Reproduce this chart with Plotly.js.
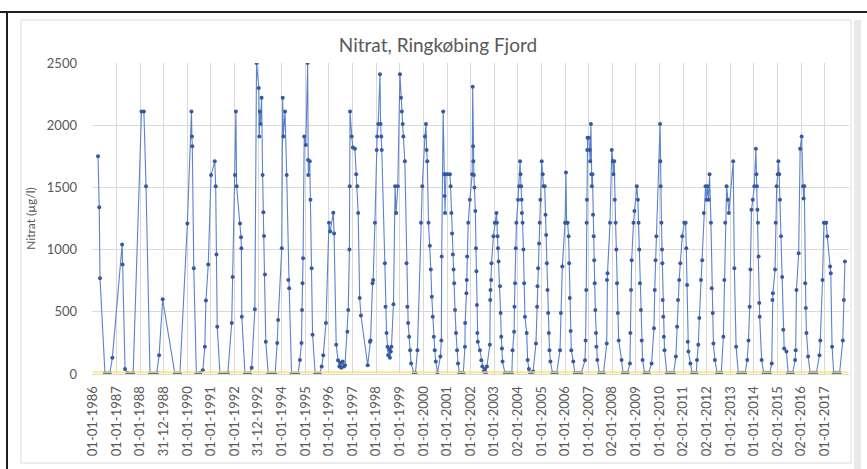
<!DOCTYPE html>
<html>
<head>
<meta charset="utf-8">
<script src="https://cdn.plot.ly/plotly-3.0.1.min.js"></script>
<style>html,body{margin:0;padding:0;background:#fff;}#chart{width:867px;height:469px;}</style>
</head>
<body>
<div id="chart"></div>
<script>
// ---- data ----
const sampleDates = [
'1986-03-20','1986-04-08','1986-04-20','1986-07-05','1986-07-25','1986-08-20','1986-09-20','1986-10-28',
'1987-03-28','1987-04-05','1987-05-12','1987-06-15','1987-07-15','1987-08-15','1987-09-15',
'1988-01-22','1988-02-28','1988-04-01','1988-06-01','1988-07-01','1988-08-01','1988-09-15','1988-10-20','1988-12-15',
'1989-06-20','1989-07-20','1989-08-20','1989-09-08',
'1990-01-01','1990-03-05','1990-03-12','1990-03-18','1990-04-10','1990-05-20','1990-06-20','1990-07-20','1990-08-28','1990-09-28','1990-10-15','1990-11-20',
'1991-01-02','1991-03-01','1991-03-15','1991-03-27','1991-04-08','1991-05-20','1991-06-20','1991-07-25','1991-09-20','1991-11-18','1991-12-02',
'1992-01-08','1992-01-22','1992-02-02','1992-03-25','1992-04-10','1992-04-16','1992-04-22','1992-06-10','1992-07-15','1992-08-25','1992-09-22','1992-11-10','1992-12-06',
'1993-01-10','1993-01-18','1993-01-26','1993-02-05','1993-02-22','1993-03-10','1993-03-22','1993-04-01','1993-04-15','1993-04-28','1993-06-05','1993-07-10','1993-08-15','1993-09-20','1993-10-22','1993-11-05',
'1994-01-01','1994-01-15','1994-01-25','1994-02-20','1994-03-18','1994-04-12','1994-04-25','1994-06-01','1994-07-01','1994-08-01','1994-09-12','1994-10-08','1994-11-02','1994-11-10','1994-11-18','1994-11-26','1994-12-14',
'1995-01-08','1995-02-05','1995-02-12','1995-02-15','1995-03-10','1995-03-20','1995-04-08','1995-04-22','1995-06-01','1995-07-01','1995-08-10','1995-09-10','1995-10-05','1995-11-15',
'1996-01-01','1996-01-20','1996-03-08','1996-03-20','1996-04-22','1996-05-20','1996-06-10','1996-06-25','1996-07-10','1996-08-01','1996-08-20','1996-09-05','1996-10-12','1996-10-25','1996-11-12','1996-11-18','1996-11-22','1996-12-18',
'1997-01-05','1997-02-05','1997-02-25','1997-03-15','1997-03-28','1997-04-20','1997-05-10','1997-08-22','1997-09-25','1997-10-05','1997-11-05','1997-11-15','1997-12-12',
'1998-01-08','1998-01-15','1998-02-01','1998-02-28','1998-03-10','1998-03-20','1998-03-28','1998-05-15','1998-05-25','1998-06-10','1998-06-25','1998-07-05','1998-07-20','1998-08-01','1998-08-15','1998-08-25','1998-09-25','1998-10-20','1998-11-05','1998-12-01',
'1999-01-03','1999-01-20','1999-02-01','1999-02-15','1999-02-25','1999-03-20','1999-04-15','1999-04-28','1999-05-10','1999-05-25','1999-06-10','1999-06-25','1999-08-05','1999-09-01','1999-10-01','1999-11-25','1999-12-15',
'2000-01-25','2000-02-10','2000-02-20','2000-03-01','2000-03-20','2000-04-10','2000-04-25','2000-05-10','2000-05-25','2000-06-10','2000-06-25','2000-07-10','2000-08-05','2000-09-20','2000-10-05','2000-10-10','2000-11-02','2000-11-20','2000-11-25','2000-12-01','2000-12-15',
'2001-01-10','2001-02-15','2001-02-25','2001-03-10','2001-03-20','2001-04-01','2001-04-12','2001-04-22','2001-05-05','2001-05-20','2001-06-05','2001-06-20','2001-07-10','2001-08-15','2001-09-10','2001-10-05','2001-10-08','2001-10-28','2001-11-02','2001-11-08','2001-11-25','2001-12-20',
'2002-01-25','2002-02-02','2002-02-08','2002-02-12','2002-02-20','2002-03-01','2002-03-15','2002-03-25','2002-04-01','2002-04-08','2002-04-15','2002-04-22','2002-05-25','2002-06-15','2002-07-01','2002-07-20','2002-08-10','2002-08-25','2002-09-10','2002-10-25','2002-11-01','2002-11-05','2002-11-15','2002-11-20','2002-12-20',
'2003-01-10','2003-02-05','2003-02-12','2003-02-22','2003-03-01','2003-03-10','2003-04-01','2003-04-10','2003-04-20','2003-05-01','2003-05-10','2003-06-15','2003-07-20','2003-08-25','2003-10-01','2003-10-12','2003-11-05','2003-11-10','2003-11-20','2003-12-01','2003-12-10',
'2004-01-05','2004-01-20','2004-02-05','2004-02-12','2004-02-22','2004-03-01','2004-03-05','2004-03-15','2004-03-28','2004-04-08','2004-04-20','2004-05-18','2004-06-01','2004-06-20','2004-07-10','2004-08-05','2004-08-25','2004-10-08','2004-10-25','2004-11-01','2004-11-10','2004-11-25','2004-12-05','2004-12-15',
'2005-01-05','2005-01-20','2005-02-01','2005-02-20','2005-03-05','2005-03-15','2005-03-25','2005-04-05','2005-04-15','2005-04-25','2005-05-05','2005-05-20','2005-06-20','2005-07-20','2005-08-25','2005-10-15','2005-10-28','2005-11-20',
'2006-01-01','2006-01-15','2006-01-25','2006-02-10','2006-02-25','2006-03-05','2006-03-15','2006-03-28','2006-04-08','2006-05-08','2006-06-01','2006-07-01','2006-08-01','2006-09-10','2006-11-05','2006-11-15','2006-11-25','2006-12-01','2006-12-05','2006-12-10','2006-12-15',
'2007-01-05','2007-01-20','2007-01-25','2007-02-05','2007-02-12','2007-02-20','2007-03-01','2007-03-10','2007-03-20','2007-03-28','2007-04-05','2007-04-15','2007-04-25','2007-05-01','2007-05-15','2007-06-15','2007-07-15','2007-08-20','2007-10-08','2007-10-12','2007-10-20','2007-11-28','2007-12-25',
'2008-01-10','2008-01-20','2008-02-01','2008-02-10','2008-02-22','2008-03-05','2008-03-15','2008-03-28','2008-04-10','2008-05-25','2008-06-15','2008-07-15','2008-08-25','2008-10-01','2008-10-08','2008-10-18','2008-10-28','2008-11-25','2008-12-10',
'2009-01-15','2009-02-01','2009-02-12','2009-02-22','2009-03-05','2009-03-20','2009-04-01','2009-04-15','2009-05-15','2009-06-15','2009-07-20','2009-09-01','2009-10-08','2009-10-20','2009-11-01','2009-11-15',
'2010-01-10','2010-01-15','2010-01-20','2010-02-01','2010-02-10','2010-02-15','2010-02-20','2010-03-01','2010-03-10','2010-03-20','2010-04-25','2010-06-01','2010-07-10','2010-08-10','2010-09-12','2010-10-01','2010-10-15','2010-11-02','2010-11-20','2010-12-20',
'2011-01-20','2011-02-10','2011-02-20','2011-03-05','2011-03-15','2011-03-25','2011-04-25','2011-05-20','2011-06-20','2011-07-25','2011-08-05','2011-08-25','2011-09-10','2011-10-05','2011-10-25','2011-11-18','2011-12-15',
'2012-01-01','2012-01-15','2012-02-01','2012-02-15','2012-03-08','2012-03-20','2012-04-05','2012-04-15','2012-05-08','2012-06-10','2012-07-20','2012-08-15','2012-09-16','2012-10-01','2012-10-15','2012-11-05','2012-11-25','2012-12-10',
'2013-02-15','2013-03-05','2013-04-01','2013-05-05','2013-06-20','2013-07-25','2013-08-20','2013-09-20','2013-10-10','2013-10-28','2013-11-10','2013-11-25','2013-12-15',
'2014-01-08','2014-02-01','2014-02-10','2014-02-18','2014-02-25','2014-03-05','2014-03-15','2014-03-25','2014-04-01','2014-05-01','2014-06-01','2014-07-01','2014-08-05','2014-09-05','2014-10-05','2014-10-15','2014-10-22','2014-11-25','2014-12-05','2014-12-20',
'2015-01-05','2015-01-15','2015-01-28','2015-02-08','2015-02-25','2015-03-15','2015-04-01','2015-04-15','2015-05-20','2015-06-15','2015-07-20','2015-08-25','2015-10-01','2015-10-10','2015-10-22','2015-11-25','2015-12-18',
'2016-01-10','2016-02-01','2016-02-10','2016-02-20','2016-03-05','2016-03-15','2016-03-25','2016-04-20','2016-05-20','2016-06-25','2016-07-25','2016-08-25','2016-10-12','2016-10-25','2016-11-28','2016-12-20',
'2017-01-10','2017-01-25','2017-02-10','2017-03-25','2017-04-05','2017-04-25','2017-05-20','2017-06-20','2017-07-20','2017-08-20','2017-10-08','2017-10-25','2017-11-10'
];
const nitrateValues = [
1750,1340,770,10,5,5,10,130,
1040,880,40,10,5,5,10,
2110,2110,1510,5,5,5,10,150,600,
5,5,5,5,
1210,2110,1910,1830,850,5,5,10,30,220,590,880,
1600,1710,1510,960,380,5,5,5,10,410,780,
1600,2110,1510,1210,1100,1010,460,5,5,5,50,520,2500,
2300,1910,2110,2010,2220,1600,1300,1110,800,260,5,5,5,5,250,435,
1010,2220,1910,2110,1600,755,690,5,5,5,5,113,250,515,730,930,1910,
1840,2500,1720,1600,1710,1400,850,315,5,5,5,60,150,410,
1215,1145,1296,1130,235,110,60,90,50,100,60,70,340,515,1000,1510,2110,1910,
1820,1810,1605,1510,1295,610,470,70,260,270,730,755,1215,
1800,1910,2010,2410,2010,1910,1800,890,540,330,220,150,200,130,180,220,560,1510,1295,1510,
2410,2220,2110,2010,1910,1710,890,540,410,300,190,85,10,10,190,1215,1510,
1910,2010,1800,1710,1215,1030,840,620,460,300,190,100,10,140,270,945,2110,1605,1430,1295,1605,
1605,1605,1510,1295,1130,960,840,730,515,330,190,85,10,10,10,220,410,650,755,945,1215,1400,
1605,2310,1830,1710,1600,1500,1310,1010,825,555,330,260,190,110,60,20,40,10,60,235,595,675,755,890,1108,
1215,1295,1215,1108,1010,905,705,490,300,205,100,10,10,10,10,190,340,540,730,1010,1215,
1400,1510,1710,1605,1510,1400,1295,1215,1000,730,460,330,113,40,10,10,20,245,540,705,850,1050,1215,1400,
1710,1605,1510,1510,1280,1118,890,675,490,330,190,100,10,10,10,190,490,865,
1215,1620,1215,1215,1108,890,610,345,190,100,10,10,10,10,110,270,675,1215,1400,1800,1900,
1900,1800,1710,2010,1605,1510,1605,1280,1108,915,730,515,330,220,113,10,10,10,245,755,810,1215,1800,
1710,1605,1710,1400,1215,1000,730,490,270,113,10,10,10,85,330,675,915,1215,1310,
1510,1400,1215,1000,730,515,270,113,10,10,10,85,367,675,915,1108,
2010,1710,1510,1215,1000,890,595,460,300,190,10,10,10,10,140,380,595,755,890,1108,
1215,1215,1010,715,260,180,85,10,10,10,113,235,450,755,915,1295,1510,
1400,1510,1400,1605,1215,690,490,245,113,10,10,10,300,755,1215,1510,1400,1295,
1710,850,220,10,10,10,10,113,270,540,840,1320,1400,
1510,1810,1605,1510,1320,1215,945,570,460,113,10,10,10,10,85,595,650,840,1215,1510,
1605,1710,1605,1400,1108,780,355,205,180,10,10,10,113,190,675,970,1810,
1910,1510,1410,1510,730,530,330,140,10,10,10,10,150,270,755,1215,
1215,1215,1108,865,810,220,10,10,10,10,270,595,905
];
const limitDates = ['1986-01-01','2017-12-31'];
const limitValues = [15, 15];
const tickDates = ['1986-01-01','1987-01-01','1988-01-01','1988-12-31','1990-01-01','1991-01-01','1992-01-01','1992-12-31',
'1994-01-01','1995-01-01','1996-01-01','1997-01-01','1998-01-01','1999-01-01','2000-01-01','2001-01-01','2002-01-01','2003-01-01',
'2004-01-02','2005-01-01','2006-01-01','2007-01-01','2008-01-02','2009-01-01','2010-01-01','2011-01-02','2012-01-02','2013-01-01',
'2014-01-01','2015-01-02','2016-01-02','2017-01-01'];
const tickLabels = ['01-01-1986','01-01-1987','01-01-1988','31-12-1988','01-01-1990','01-01-1991','01-01-1992','31-12-1992',
'01-01-1994','01-01-1995','01-01-1996','01-01-1997','01-01-1998','01-01-1999','01-01-2000','01-01-2001','01-01-2002','01-01-2003',
'02-01-2004','01-01-2005','01-01-2006','01-01-2007','02-01-2008','01-01-2009','01-01-2010','02-01-2011','02-01-2012','01-01-2013',
'01-01-2014','02-01-2015','02-01-2016','01-01-2017'];
const yTicks = [0, 500, 1000, 1500, 2000, 2500];

// ---- chart ----
const W = 867, H = 469, L = 92, R = 849, T = 63, B = 374;
const px = x => (x - L) / (R - L);
const py = y => (B - y) / (B - T);
const FONT = 'Lato, "Open Sans", sans-serif';
const GREY = '#595959';

const traces = [
  {
    x: sampleDates, y: nitrateValues, type: 'scatter', mode: 'lines+markers', name: 'Nitrat',
    line: {color: '#5b83cc', width: 1.1},
    marker: {color: '#36599f', size: 4, symbol: 'circle'},
    hoverinfo: 'x+y'
  },
  {
    x: limitDates, y: limitValues, type: 'scatter', mode: 'lines', name: 'limit',
    line: {color: 'rgba(255,222,110,0.8)', width: 2}, hoverinfo: 'skip'
  }
];

const layout = {
  width: W, height: H,
  margin: {l: L, r: W - R, t: T, b: H - B, pad: 0},
  paper_bgcolor: '#ffffff', plot_bgcolor: 'rgba(0,0,0,0)',
  showlegend: false,
  font: {family: FONT, color: GREY},
  title: {
    text: 'Nitrat, Ringkøbing Fjord', xref: 'container', yref: 'container',
    x: 438 / W, y: 1 - 45 / H, xanchor: 'center', yanchor: 'middle',
    font: {family: FONT, size: 19, color: GREY}
  },
  xaxis: {
    type: 'date', range: ['1985-12-17', '2018-01-12'],
    tickmode: 'array', tickvals: tickDates, ticktext: tickLabels, tickangle: -90,
    tickfont: {family: FONT, size: 13, color: GREY},
    showgrid: true, gridcolor: '#d9d9d9', gridwidth: 1,
    showline: true, linecolor: '#d9d9d9', ticks: '', zeroline: false,
    ticklabelstandoff: 6
  },
  yaxis: {
    range: [0, 2500], tickmode: 'array', tickvals: yTicks,
    tickfont: {family: FONT, size: 13, color: GREY},
    showgrid: true, gridcolor: '#d9d9d9', gridwidth: 1, zeroline: false,
    showline: false, ticks: '', ticklabelstandoff: 14,
    title: {text: 'Nitrat (µg/l)', font: {family: FONT, size: 12, color: GREY}, standoff: 8}
  },
  shapes: [
    {type: 'line', xref: 'paper', yref: 'paper', x0: px(0), x1: px(W), y0: py(12), y1: py(12), line: {color: '#1e1e1e', width: 2}, layer: 'below'},
    {type: 'line', xref: 'paper', yref: 'paper', x0: px(7), x1: px(7), y0: py(12), y1: py(H), line: {color: '#1e1e1e', width: 2}, layer: 'below'},
    {type: 'rect', xref: 'paper', yref: 'paper', x0: px(21), x1: px(851), y0: py(463), y1: py(20), line: {color: '#dcdcdc', width: 1}, fillcolor: 'rgba(0,0,0,0)', layer: 'below'},
    {type: 'rect', xref: 'paper', yref: 'paper', x0: px(854), x1: px(861), y0: py(H), y1: py(20), line: {width: 0}, fillcolor: '#e9e9e9', layer: 'below'}
  ]
};

Plotly.newPlot('chart', traces, layout, {displayModeBar: false, staticPlot: true});
</script>
</body>
</html>
